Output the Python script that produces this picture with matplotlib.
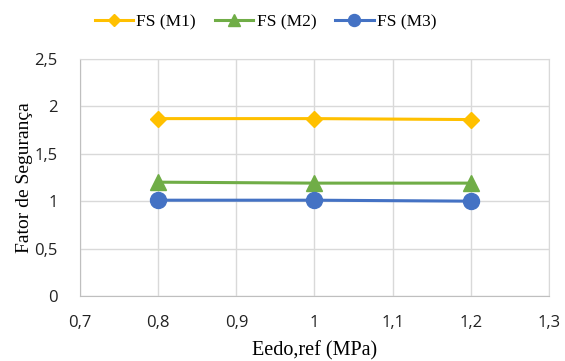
import matplotlib.pyplot as plt
from matplotlib.ticker import FuncFormatter

# data
eedo = [0.8, 1.0, 1.2]
fs_m1 = [1.87, 1.87, 1.86]
fs_m2 = [1.20, 1.19, 1.19]
fs_m3 = [1.01, 1.01, 1.00]
labels = ['FS (M1)', 'FS (M2)', 'FS (M3)']

fig = plt.figure(figsize=(5.65, 3.61), dpi=100)
ax = fig.add_axes([0.1416, 0.18, 0.83, 0.657])

ax.plot(eedo, fs_m1, color='#FFC000', lw=2.2, marker='D', ms=8.5, label=labels[0])
ax.plot(eedo, fs_m2, color='#70AD47', lw=2.2, marker='^', ms=11.5, label=labels[1])
ax.plot(eedo, fs_m3, color='#4472C4', lw=2.2, marker='o', ms=11.5, label=labels[2])

ax.set_xlim(0.7, 1.3)
ax.set_ylim(0, 2.5)
ax.set_xticks([0.7, 0.8, 0.9, 1.0, 1.1, 1.2, 1.3])
ax.set_yticks([0, 0.5, 1, 1.5, 2, 2.5])

fmt = FuncFormatter(lambda v, p: ('%g' % round(v, 2)).replace('.', ','))
ax.xaxis.set_major_formatter(fmt)
ax.yaxis.set_major_formatter(fmt)

ax.grid(True, color='#D9D9D9', lw=1)
ax.set_axisbelow(True)
for s in ax.spines.values():
    s.set_color('#D9D9D9')
ax.spines['left'].set_color('#BFBFBF')
ax.spines['bottom'].set_color('#BFBFBF')
ax.tick_params(length=0, labelsize=12)
ax.tick_params(axis='x', pad=14)
ax.tick_params(axis='y', pad=16)
for t in ax.get_xticklabels() + ax.get_yticklabels():
    t.set_family('Open Sans')
    t.set_color('#222222')

ax.set_xlabel('Eedo,ref (MPa)', family='Liberation Serif', fontsize=14.5, labelpad=7)
ax.set_ylabel('Fator de Segurança', family='Liberation Serif', fontsize=14, labelpad=1)

fig.legend(loc='upper center', bbox_to_anchor=(0.47, 1.005), ncol=3, frameon=False,
           prop={'family': 'Liberation Serif', 'size': 12.5}, markerscale=0.75,
           handlelength=2.2, columnspacing=1.1, handletextpad=0.2)

plt.savefig('out.png', dpi=100)
